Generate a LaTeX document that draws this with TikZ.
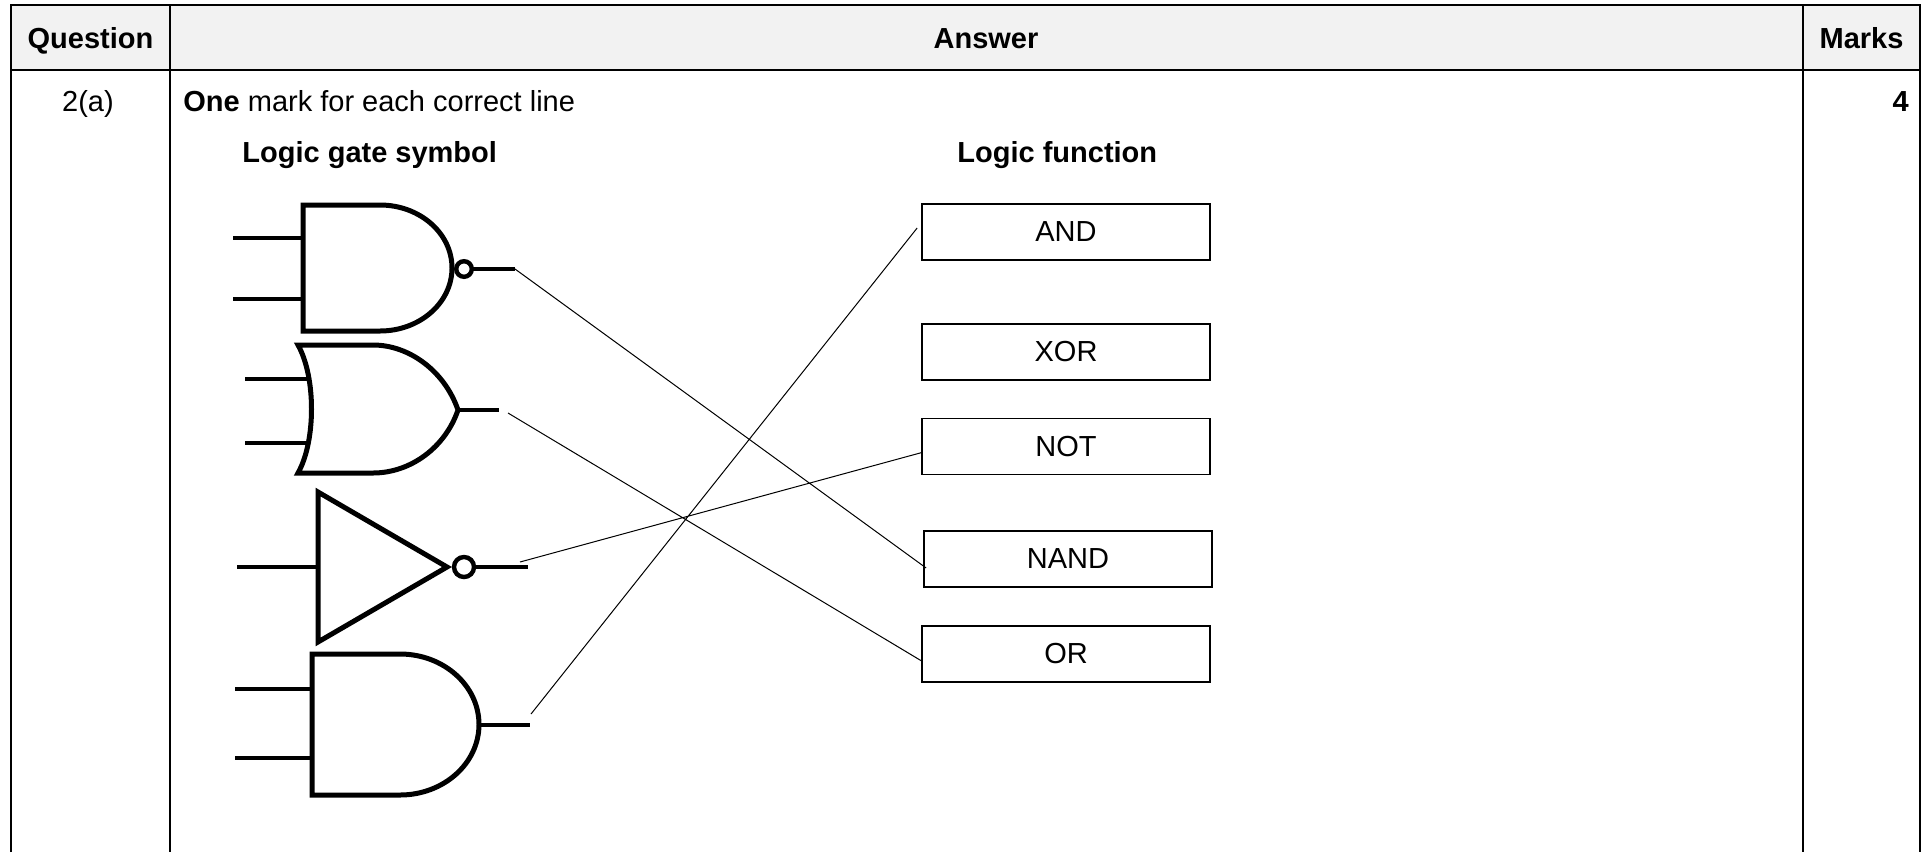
\documentclass[tikz,border=0pt]{standalone}
\usepackage{fontspec}
\setmainfont{Liberation Sans}
\usepackage{xcolor}
\usetikzlibrary{calc}
\definecolor{headgray}{HTML}{F2F2F2}

\begin{document}
\begin{tikzpicture}[x=0.5pt,y=-0.5pt,
		font=\fontsize{14.5}{17}\selectfont,
		every node/.style={inner sep=0pt},
		rule/.style={line width=1pt},
		head/.style={font=\fontsize{14.5}{17}\selectfont\bfseries,anchor=base},
		gate/.style={line width=2.5pt,line join=miter},
		wire/.style={line width=2pt},
		bubble/.style={line width=2.2pt,fill=white},
		fnbox/.style={draw,line width=0.85pt,minimum width=144pt,minimum height=28pt},
		link/.style={line width=0.5pt}]
		\fill[white] (0,0) rectangle (1930,852);
		\useasboundingbox (0,0) rectangle (1930,852);
		% table
		\fill[headgray] (11,4.5) rectangle (1920,70);
		\draw[rule] (11,852) -- (11,4.5) -- (1920,4.5) -- (1920,852)
		(170,4.5) -- (170,852) (1803,4.5) -- (1803,852);
		\draw[line width=1.3pt] (11,70) -- (1920,70);
		\node[head] (qhead) at (90.5,48) {Question};
		\node[head] (ahead) at (986,48) {Answer};
		\node[head] (mhead) at (1861.5,48) {Marks};
		\node[anchor=base] (qnum) at (88,111) {2(a)};
		\node[anchor=base west] (guide) at (183,111) {\textbf{One} mark for each correct line};
		\node[head,anchor=base east] (mark) at (1909,111) {4};
		\node[head,anchor=base west] (symhead) at (242,162) {Logic gate symbol};
		\node[head,anchor=base west] (fnhead) at (957,162) {Logic function};
		% functions
		\node[fnbox] (fand) at (1066,232) {AND};
		\node[fnbox] (fxor) at (1066,352) {XOR};
		\node[fnbox] (fnot) at (1066,446.5) {NOT};
		\node[fnbox] (fnand) at (1068,558.7) {NAND};
		\node[fnbox] (fnor) at (1066,654) {OR};
		% nand
		\draw[wire] (233,238) -- (303,238) (233,299) -- (303,299);
		\draw[gate] (303,205) -- (380,205) arc[start angle=-90,end angle=90,x radius=72,y radius=63] -- (303,331) -- cycle;
		\draw[bubble] (464,269) circle[radius=7.8];
		\draw[wire] (472,269) -- (515,269);
		\coordinate (nandout) at (515,269);
		% or
		\draw[wire] (245,379) -- (310,379) (245,443) -- (310,443);
		\draw[gate] (298,345) -- (373,345) .. controls (410,345) and (445,372) .. (458,410)
		.. controls (445,448) and (410,473) .. (373,473) -- (298,473)
		.. controls (316,441) and (316,377) .. (298,345) -- cycle;
		\draw[wire] (458,410) -- (499,410);
		\coordinate (orout) at (508,413);
		% not
		\draw[wire] (237,567) -- (318,567);
		\draw[gate] (318,492) -- (447,567) -- (318,642) -- cycle;
		\draw[bubble] (464,567) circle[radius=10];
		\draw[wire] (474,567) -- (528,567);
		\coordinate (notout) at (520,562);
		% and
		\draw[wire] (235,689) -- (312,689) (235,758) -- (312,758);
		\draw[gate] (312,654) -- (400,654) arc[start angle=-90,end angle=90,x radius=79,y radius=70.5] -- (312,795) -- cycle;
		\draw[wire] (479,724.5) -- (530,724.5);
		\coordinate (andout) at (531,714);
		\draw[link]
		(nandout) -- ($(fnand.west)+(3,9.3)$)
		(orout) -- ($(fnor.west)+(0,6.7)$)
		(notout) -- ($(fnot.west)+(0,6.2)$)
		(andout) -- ($(fand.west)+(-4,-4)$);
	\end{tikzpicture}
\end{document}
